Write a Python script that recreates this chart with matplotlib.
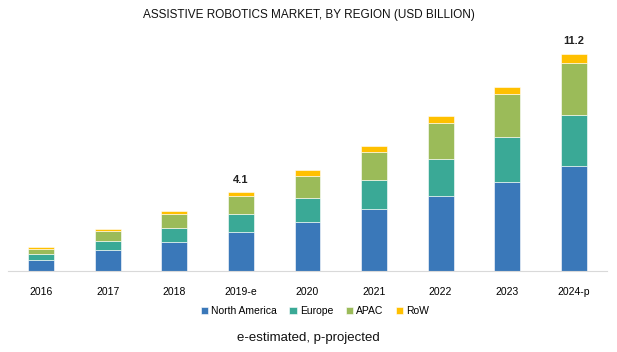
import numpy as np
import matplotlib.pyplot as plt

# values (USD billion)
years = ['2016', '2017', '2018', '2019-e', '2020', '2021', '2022', '2023', '2024-p']
north_america = [0.55, 1.05, 1.50, 1.98, 2.53, 3.17, 3.88, 4.60, 5.40]
europe = [0.33, 0.50, 0.71, 0.93, 1.21, 1.50, 1.88, 2.29, 2.64]
apac = [0.26, 0.52, 0.71, 0.96, 1.17, 1.48, 1.89, 2.22, 2.67]
row = [0.10, 0.10, 0.15, 0.18, 0.28, 0.29, 0.35, 0.39, 0.50]
labels = {3: '4.1', 8: '11.2'}

regions = ['North America', 'Europe', 'APAC', 'RoW']
colors = ['#3a78b9', '#3aa996', '#9bbb59', '#ffc000']

plt.rcParams['font.family'] = ['Liberation Sans', 'DejaVu Sans']

fig = plt.figure(figsize=(6.17, 3.52), dpi=100)
ax = fig.add_axes([8 / 617, 1 - 270.7 / 352, 599 / 617, 230.7 / 352])

x = np.arange(len(years))
bottom = np.zeros(len(years))
for name, vals, c in zip(regions, [north_america, europe, apac, row], colors):
    ax.bar(x, vals, 0.39, bottom=bottom, color=c, label=name,
           edgecolor='white', linewidth=0.4)
    bottom += np.array(vals)

for i, txt in labels.items():
    ax.text(x[i], bottom[i] + 0.38, txt, ha='center', va='bottom',
            fontsize=8, fontweight='bold', color='#222222')

ax.set_xlim(-0.5, len(years) - 0.5)
ax.set_ylim(0, 230.7 / 19.35)
ax.set_yticks([])
ax.set_xticks(x)
ax.set_xticklabels(years, fontsize=7.5)
ax.tick_params(axis='x', length=0, pad=12)
for s in ['top', 'right', 'left']:
    ax.spines[s].set_visible(False)
ax.spines['bottom'].set_color('#d9d9d9')

fig.text(0.5, 1 - 15 / 352, 'ASSISTIVE ROBOTICS MARKET, BY REGION (USD BILLION)',
         ha='center', va='center', fontsize=8.5, color='#111111')

leg = fig.legend(loc='center', bbox_to_anchor=(315 / 617, 1 - 311 / 352),
                 ncol=4, frameon=False, fontsize=7.5, handlelength=0.7,
                 handleheight=0.7, handletextpad=0.3, columnspacing=1.2)

fig.text(308 / 617, 1 - 338 / 352, 'e-estimated, p-projected',
         ha='center', va='center', fontsize=9.5, color='#111111')

fig.savefig('out.png', dpi=100)
